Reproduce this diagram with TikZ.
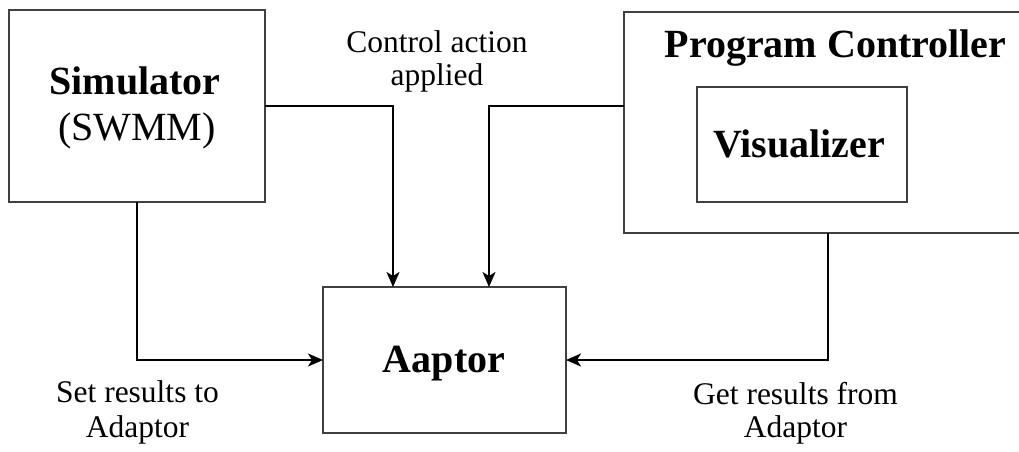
\documentclass[tikz,border=0pt]{standalone}
\usepackage{fontspec}
\setmainfont{Liberation Serif}
\usetikzlibrary{arrows.meta}
\begin{document}
\begin{tikzpicture}[x=1pt,y=-1pt,
  box/.style={draw=black!75,line width=1.5pt,inner sep=0pt,outer sep=0pt},
  conn/.style={draw=black,line width=2pt,-{Stealth[length=15pt,width=13pt,inset=4pt]}},
  title/.style={anchor=base,inner sep=0pt,font=\fontsize{40}{48}\selectfont\bfseries},
  sub/.style={anchor=base,inner sep=0pt,font=\fontsize{40}{48}\selectfont},
  lbl/.style={anchor=base,inner sep=0pt,font=\fontsize{31.5}{35}\selectfont}]
\useasboundingbox (0,0) rectangle (1019,451);

% blocks
\node[box,minimum width=256pt,minimum height=192pt] (sim) at (137,106) {};
\node[box,minimum width=416pt,minimum height=221pt] (pc) at (832,122.5) {};
\node[box,minimum width=210pt,minimum height=115pt] (vis) at (802,144.5) {};
\node[box,minimum width=243pt,minimum height=146pt] (ad) at (444.5,360) {};

% block titles
\node[title] (simname) at (135,94) {Simulator};
\node[sub] (simsub) at (137,140) {(SWMM)};
\node[title] (pcname) at (835.5,57) {Program Controller};
\node[title] (visname) at (799,157) {Visualizer};
\node[title] (adname) at (444,372) {Aaptor};

% connectors
\draw[conn] (sim.east) -| ([xshift=-51.5pt]ad.north);
\draw[conn] ([yshift=16.5pt]pc.west) -| ([xshift=44.5pt]ad.north);
\draw[conn] (sim.south) |- (ad.west);
\draw[conn] ([xshift=-4pt]pc.south) |- (ad.east);

% connector labels
\node[lbl] (ctl1) at (437,52) {Control action};
\node[lbl] (ctl2) at (437,85) {applied};
\node[lbl] (set1) at (137.5,402) {Set results to};
\node[lbl] (set2) at (137.5,437) {Adaptor};
\node[lbl] (get1) at (795.5,404) {Get results from};
\node[lbl] (get2) at (795.5,437) {Adaptor};
\end{tikzpicture}
\end{document}
